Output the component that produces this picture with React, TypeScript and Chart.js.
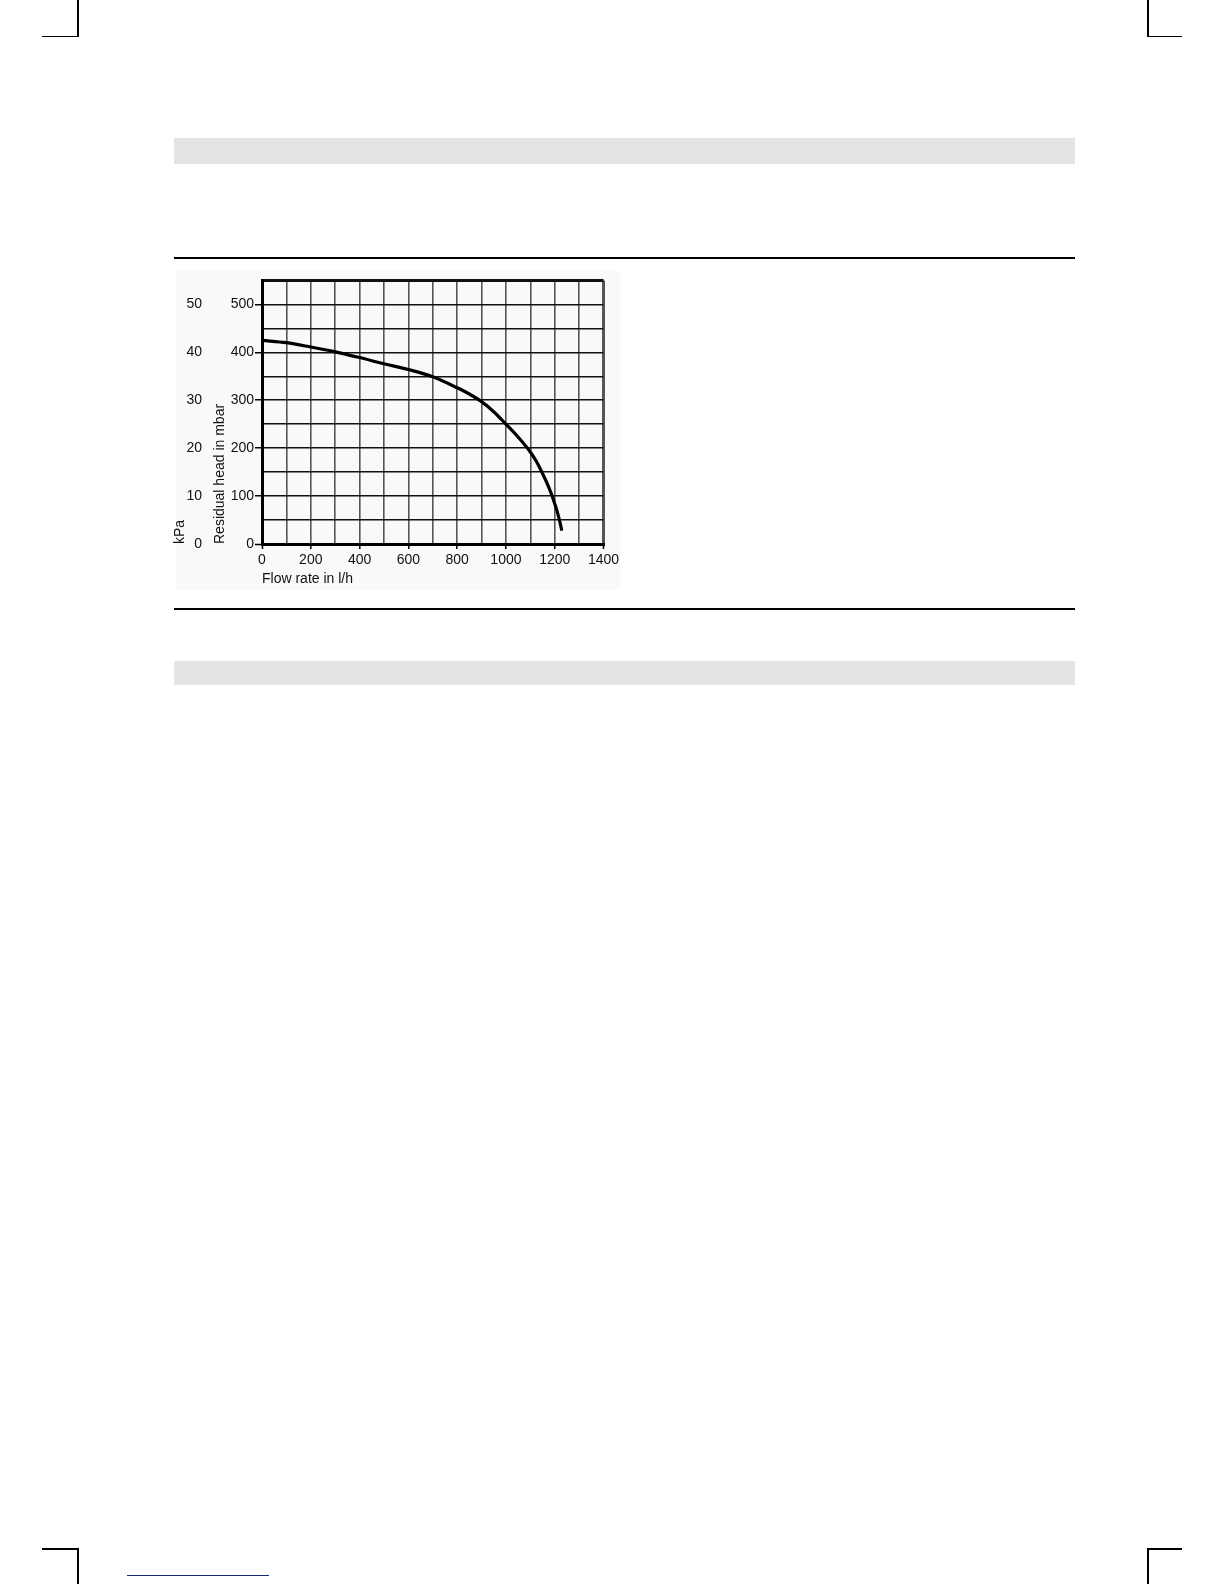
import { useEffect, useRef } from 'react';
import { Chart, registerables } from 'chart.js';

Chart.register(...registerables);

const FONT = '"Liberation Sans", Arial, Helvetica, sans-serif';

// pump curve (flow in l/h, residual head in mbar)
const flowRate = [0, 100, 200, 300, 400, 500, 600, 700, 800, 850, 900, 950, 1000, 1050, 1100, 1125, 1150, 1175, 1195, 1210, 1222, 1229];
const residualHead = [425, 420, 411, 401, 389, 376, 364, 349, 326, 313, 297, 276, 250, 223, 192, 172, 147, 119, 92, 68, 44, 28];

const flowLabels = [0, 200, 400, 600, 800, 1000, 1200, 1400];
const mbarLabels = [0, 100, 200, 300, 400, 500];
const kpaLabels = [0, 10, 20, 30, 40, 50];

const tickFont = { family: FONT, size: 14 };

function HeadChart() {
  const ref = useRef<HTMLCanvasElement>(null);

  useEffect(() => {
    if (!ref.current) return;
    const chart = new Chart(ref.current, {
      type: 'line',
      data: {
        datasets: [{
          data: flowRate.map((x, i) => ({ x, y: residualHead[i] })),
          borderColor: '#000',
          borderWidth: 3.2,
          pointRadius: 0,
          cubicInterpolationMode: 'monotone',
          fill: false,
          yAxisID: 'y',
        }],
      },
      options: {
        responsive: false,
        animation: false,
        layout: { padding: { top: 14, right: 21.5, bottom: 0, left: 0 } },
        plugins: { legend: { display: false }, tooltip: { enabled: false } },
        scales: {
          x: {
            type: 'linear', min: 0, max: 1400,
            afterFit: (s: any) => { s.height = 46; },
            ticks: {
              stepSize: 100, autoSkip: false, maxRotation: 0, padding: 3, color: '#111', font: tickFont,
              callback: (v: any) => (flowLabels.includes(v) ? String(v) : ''),
            },
            grid: {
              color: '#555',
              lineWidth: (ctx: any) => (ctx.tick && (ctx.tick.value === 0 || ctx.tick.value === 1400) ? 3 : 1.6),
              tickLength: 5,
              tickWidth: 1.5,
              tickColor: (ctx: any) => (ctx.tick && flowLabels.includes(ctx.tick.value) ? '#000' : 'rgba(0,0,0,0)'),
            },
            border: { display: true, color: '#000', width: 3 },
            title: {
              display: true, text: 'Flow rate in l/h', align: 'start', color: '#111',
              font: tickFont, padding: { top: 0, bottom: 2 },
            },
          },
          y: {
            type: 'linear', position: 'left', weight: 0, min: 0, max: 550,
            afterFit: (s: any) => { s.width = 50; },
            ticks: {
              stepSize: 50, autoSkip: false, padding: 1, color: '#111', font: tickFont,
              callback: (v: any) => (mbarLabels.includes(v) ? String(v) : ''),
            },
            grid: {
              color: '#111',
              lineWidth: (ctx: any) => (ctx.tick && (ctx.tick.value === 0 || ctx.tick.value === 550) ? 3 : 1.5),
              tickLength: 7,
              tickWidth: 1.5,
              tickColor: (ctx: any) => (ctx.tick && mbarLabels.includes(ctx.tick.value) ? '#000' : 'rgba(0,0,0,0)'),
            },
            border: { display: true, color: '#000', width: 3 },
            title: {
              display: true, text: 'Residual head in mbar', align: 'start', color: '#111',
              font: tickFont, padding: { top: 0, bottom: 0 },
            },
          },
          y2: {
            type: 'linear', position: 'left', weight: 1, min: 0, max: 55,
            afterFit: (s: any) => { s.width = 47; },
            ticks: {
              stepSize: 5, autoSkip: false, padding: 10, color: '#111', font: tickFont,
              callback: (v: any) => (kpaLabels.includes(v) ? String(v) : ''),
            },
            grid: { display: false, drawTicks: false, drawOnChartArea: false },
            border: { display: false },
            title: {
              display: true, text: 'kPa', align: 'start', color: '#111',
              font: tickFont, padding: { top: 7, bottom: 0 },
            },
          },
        },
      },
    } as any);
    return () => { chart.destroy(); };
  }, []);

  return <canvas ref={ref} width={460} height={328} style={{ position: 'absolute', left: 165, top: 262, width: 460, height: 328 }} />;
}

function Box({ l, t, w, h, c }: { l: number; t: number; w: number; h: number; c: string }) {
  return <div style={{ position: 'absolute', left: l, top: t, width: w, height: h, background: c }} />;
}

export default function App() {
  return (
    <div style={{ position: 'absolute', left: 0, top: 0, width: 1224, height: 1584, background: '#fff', overflow: 'hidden', fontFamily: FONT }}>
      {/* crop marks */}
      <Box l={77} t={0} w={1.5} h={36} c="#000" />
      <Box l={42} t={35.5} w={36.5} h={1.5} c="#000" />
      <Box l={1147} t={0} w={1.5} h={36} c="#000" />
      <Box l={1147} t={35.5} w={35} h={1.5} c="#000" />
      <Box l={42} t={1548} w={36.5} h={1.5} c="#000" />
      <Box l={77} t={1548} w={1.5} h={36} c="#000" />
      <Box l={1147} t={1548} w={35} h={1.5} c="#000" />
      <Box l={1147} t={1548} w={1.5} h={36} c="#000" />

      {/* header bars and rules */}
      <Box l={174} t={138} w={901} h={26} c="#e4e4e4" />
      <Box l={174} t={257} w={901} h={2.3} c="#000" />
      <Box l={176} t={271} w={444} h={319} c="#f9f9f9" />
      <Box l={174} t={608} w={901} h={2.3} c="#000" />
      <Box l={174} t={661} w={901} h={24} c="#e4e4e4" />
      <Box l={127} t={1575} w={142} h={1} c="#1a237e" />

      <HeadChart />
    </div>
  );
}
